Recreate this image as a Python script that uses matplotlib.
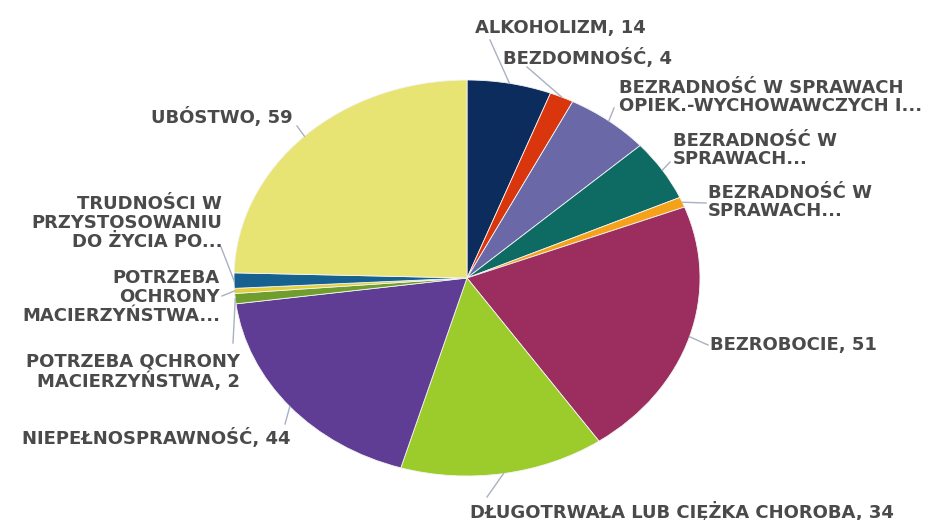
import matplotlib.pyplot as plt
import numpy as np

# dane
categories = [
    "ALKOHOLIZM", "BEZDOMNOŚĆ",
    "BEZRADNOŚĆ W SPRAWACH\nOPIEK.-WYCHOWAWCZYCH I...",
    "BEZRADNOŚĆ W\nSPRAWACH...", "BEZRADNOŚĆ W\nSPRAWACH...",
    "BEZROBOCIE", "DŁUGOTRWAŁA LUB CIĘŻKA CHOROBA", "NIEPEŁNOSPRAWNOŚĆ",
    "POTRZEBA QCHRONY\nMACIERZYŃSTWA", "POTRZEBA\nOCHRONY\nMACIERZYŃSTWA...",
    "TRUDNOŚCI W\nPRZYSTOSOWANIU\nDO ŻYCIA PO...", "UBÓSTWO",
]
values = [14, 4, 14, 12, 2, 51, 34, 44, 2, 1, 3, 59]
show_value = [True, True, False, False, False, True, True, True, True, False, False, True]
colors = ["#0b2c5c", "#d9360e", "#6b68a8", "#0e6b63", "#f5a21a", "#9b2d5f",
          "#9ccb2c", "#5f3d95", "#6f9e2e", "#e3cf3a", "#17618f", "#e8e474"]

W, H = 936, 520
cx, cy, rx, ry = 467, 278, 233, 198

fig = plt.figure(figsize=(W / 100, H / 100), dpi=100)
ax = fig.add_axes([0, 0, 1, 1])
ax.pie(values, colors=colors, startangle=90, counterclock=False, radius=1,
       wedgeprops=dict(edgecolor="#f4f4f4", linewidth=0.6))
ax.set_aspect("auto")
ax.set_xlim(-cx / rx, (W - cx) / rx)
ax.set_ylim(-(H - cy) / ry, cy / ry)
ax.axis("off")


def px(x, y):
    return (x - cx) / rx, (cy - y) / ry


# rozmieszczenie etykiet: (x, y, wyrównanie, koniec linii)
label_pos = [
    (475, 28, "left", (490, 40)),
    (503, 58, "left", (527, 67)),
    (619, 97, "left", (614, 108)),
    (673, 150, "left", (670, 162)),
    (708, 202, "left", (706, 203)),
    (710, 345, "left", (708, 345)),
    (470, 511, "left", (487, 497)),
    (22, 438, "left", (285, 424)),
    (240, 372, "right", (233, 343)),
    (220, 297, "right", (222, 296)),
    (222, 223, "right", (221, 247)),
    (293, 117, "right", (297, 126)),
]

total = sum(values)
cum = np.cumsum([0] + values)
for i, (name, v) in enumerate(zip(categories, values)):
    mid = np.deg2rad(90 - (cum[i] + v / 2) / total * 360)
    x0, y0 = np.cos(mid), np.sin(mid)
    tx, ty, ha, (lx, ly) = label_pos[i]
    ax.plot([x0, px(lx, ly)[0]], [y0, px(lx, ly)[1]], color="#a9b0c0", lw=1)
    text = f"{name}, {v}" if show_value[i] else name
    ax.text(*px(tx, ty), text, ha=ha, va="center", multialignment=ha,
            fontsize=13, fontweight="bold", color="#4a4a4a",
            family="DejaVu Sans", linespacing=1.05)

fig.savefig("out.png", dpi=100)
